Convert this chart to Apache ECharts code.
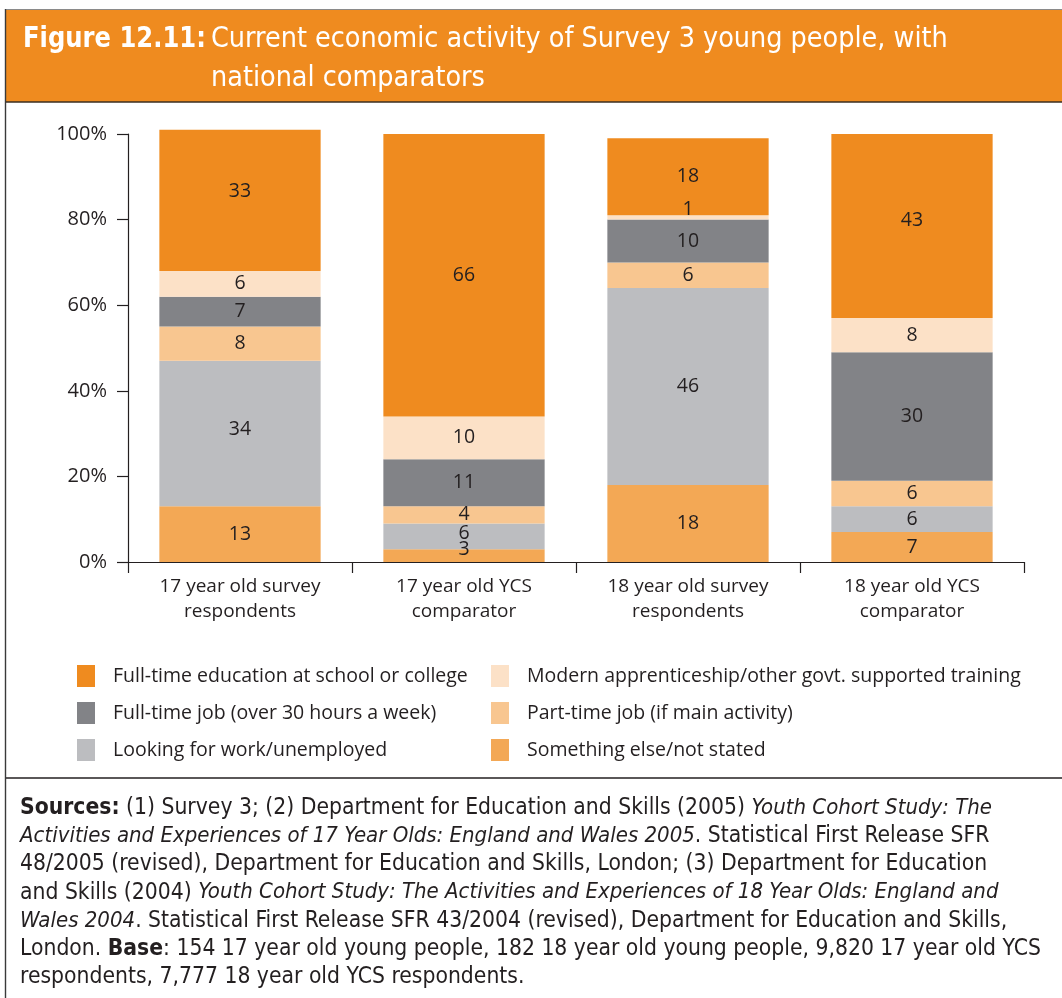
<!DOCTYPE html>
<html>
<head>
<meta charset="utf-8">
<script src="https://cdn.jsdelivr.net/npm/echarts@6/dist/echarts.min.js"></script>
<style>
  html, body { margin: 0; padding: 0; background: #fff; }
  #chart { width: 1062px; height: 998px; }
</style>
</head>
<body>
<div id="chart"></div>
<script>
// Groups along the x axis
const categories = [
  '17 year old survey\nrespondents',
  '17 year old YCS\ncomparator',
  '18 year old survey\nrespondents',
  '18 year old YCS\ncomparator'
];

// Percentages per activity, bottom of the stack first
const somethingElse = [13, 3, 18, 7];
const lookingForWork = [34, 6, 46, 6];
const partTimeJob = [8, 4, 6, 6];
const fullTimeJob = [7, 11, 10, 30];
const apprenticeship = [6, 10, 1, 8];
const fullTimeEducation = [33, 66, 18, 43];

const yTicks = [0, 20, 40, 60, 80, 100];

// vertical nudges for a few value labels (px), keyed by series then group
const labelNudges = {
  'Something else/not stated': [0, -6, 0, 0],
  'Looking for work/unemployed': [-4, -3, 0, 0],
  'Modern apprenticeship/other govt. supported training': [0, 0, -8, 0],
  'Full-time education at school or college': [-9, 0, 0, -6]
};

const seriesDefs = [
  { name: 'Something else/not stated', data: somethingElse, color: '#F3A855' },
  { name: 'Looking for work/unemployed', data: lookingForWork, color: '#BCBDC0' },
  { name: 'Part-time job (if main activity)', data: partTimeJob, color: '#F8C690' },
  { name: 'Full-time job (over 30 hours a week)', data: fullTimeJob, color: '#828387' },
  { name: 'Modern apprenticeship/other govt. supported training', data: apprenticeship, color: '#FCE1C7' },
  { name: 'Full-time education at school or college', data: fullTimeEducation, color: '#EF8B1F' }
];

const bodyFont = "'Open Sans', 'Noto Sans', sans-serif";
const narrowFont = "'DejaVu Sans Condensed', 'Open Sans', sans-serif";
const textColor = '#231F20';

const chart = echarts.init(document.getElementById('chart'), null, { renderer: 'canvas' });

const legendCommon = {
  orient: 'vertical',
  icon: 'rect',
  padding: 0,
  itemWidth: 18,
  itemHeight: 22,
  itemGap: 15,
  selectedMode: false,
  textStyle: { fontFamily: bodyFont, fontSize: 19.5, color: textColor, padding: [0, 0, 0, 13] }
};

const footerText = [
  '{b|Sources:} (1) Survey 3; (2) Department for Education and Skills (2005) {i|Youth Cohort Study: The}',
  '{i|Activities and Experiences of 17 Year Olds: England and Wales 2005}. Statistical First Release SFR',
  '48/2005 (revised), Department for Education and Skills, London; (3) Department for Education',
  'and Skills (2004) {i|Youth Cohort Study: The Activities and Experiences of 18 Year Olds: England and}',
  '{i|Wales 2004}. Statistical First Release SFR 43/2004 (revised), Department for Education and Skills,',
  'London. {b|Base}: 154 17 year old young people, 182 18 year old young people, 9,820 17 year old YCS',
  'respondents, 7,777 18 year old YCS respondents.'
].join('\n');

const footSize = 22.7;
const footItalic = 22;
const footLine = 28.2;

const option = {
  animation: false,
  backgroundColor: '#ffffff',
  grid: { left: 128, right: 38, top: 134, bottom: 436, containLabel: false },
  legend: [
    Object.assign({}, legendCommon, {
      left: 77, top: 665,
      data: [
        'Full-time education at school or college',
        'Full-time job (over 30 hours a week)',
        'Looking for work/unemployed'
      ]
    }),
    Object.assign({}, legendCommon, {
      left: 491, top: 665,
      data: [
        'Modern apprenticeship/other govt. supported training',
        'Part-time job (if main activity)',
        'Something else/not stated'
      ]
    })
  ],
  xAxis: {
    type: 'category',
    data: categories,
    axisLine: { lineStyle: { color: '#231F20', width: 1.2 } },
    axisTick: { show: true, length: 11, lineStyle: { color: '#231F20', width: 1.2 } },
    axisLabel: {
      fontFamily: bodyFont, fontSize: 19, color: textColor,
      lineHeight: 25, margin: 12
    }
  },
  yAxis: {
    type: 'value',
    min: yTicks[0],
    max: yTicks[yTicks.length - 1],
    interval: yTicks[1] - yTicks[0],
    axisLine: { show: true, lineStyle: { color: '#231F20', width: 1.2 } },
    axisTick: { show: true, length: 11, lineStyle: { color: '#231F20', width: 1.2 } },
    splitLine: { show: false },
    axisLabel: {
      fontFamily: bodyFont, fontSize: 20, color: textColor,
      margin: 21, formatter: '{value}%'
    }
  },
  series: seriesDefs.map(s => ({
    name: s.name,
    type: 'bar',
    stack: 'total',
    clip: false,
    barCategoryGap: '28%',
    data: s.data.map((v, i) => {
      const dy = (labelNudges[s.name] || [])[i] || 0;
      return dy ? { value: v, label: { offset: [0, dy] } } : v;
    }),
    itemStyle: { color: s.color },
    label: {
      show: true,
      position: 'inside',
      fontFamily: bodyFont,
      fontSize: 19.5,
      color: textColor
    },
    emphasis: { disabled: true }
  })),
  graphic: [
    // header band with frame lines
    { type: 'rect', shape: { x: 6, y: 10, width: 1056, height: 92 }, style: { fill: '#EF8B1F' }, z: 1 },
    { type: 'line', shape: { x1: 6, y1: 9.5, x2: 1062, y2: 9.5 }, style: { stroke: '#8A8A8A', lineWidth: 1.2 }, z: 2 },
    { type: 'line', shape: { x1: 6, y1: 102, x2: 1062, y2: 102 }, style: { stroke: '#3A2E22', lineWidth: 1.6 }, z: 2 },
    { type: 'line', shape: { x1: 5.5, y1: 9, x2: 5.5, y2: 998 }, style: { stroke: '#3A3A3A', lineWidth: 1.4 }, z: 10 },
    {
      type: 'text', x: 23, y: 25, scaleX: 0.93, z: 3,
      style: { text: 'Figure 12.11:', fontFamily: narrowFont, fontSize: 29, fontWeight: 'bold', fill: '#ffffff' }
    },
    {
      type: 'text', x: 211, y: 25, scaleX: 0.98, z: 3,
      style: { text: 'Current economic activity of Survey 3 young people, with', fontFamily: narrowFont, fontSize: 29, fill: '#ffffff' }
    },
    {
      type: 'text', x: 211, y: 64, scaleX: 0.98, z: 3,
      style: { text: 'national comparators', fontFamily: narrowFont, fontSize: 29, fill: '#ffffff' }
    },
    // separator above the source notes
    { type: 'line', shape: { x1: 6, y1: 778, x2: 1062, y2: 778 }, style: { stroke: '#231F20', lineWidth: 1.6 }, z: 2 },
    {
      type: 'text', x: 20, y: 794, z: 3,
      style: {
        text: footerText,
        fontFamily: narrowFont,
        fontSize: footSize,
        lineHeight: footLine,
        fill: textColor,
        rich: {
          b: { fontFamily: narrowFont, fontSize: footSize, fontWeight: 'bold', fill: textColor, lineHeight: footLine },
          i: { fontFamily: narrowFont, fontSize: footItalic, fontStyle: 'italic', fill: textColor, lineHeight: footLine }
        }
      }
    }
  ]
};

chart.setOption(option);
</script>
</body>
</html>
